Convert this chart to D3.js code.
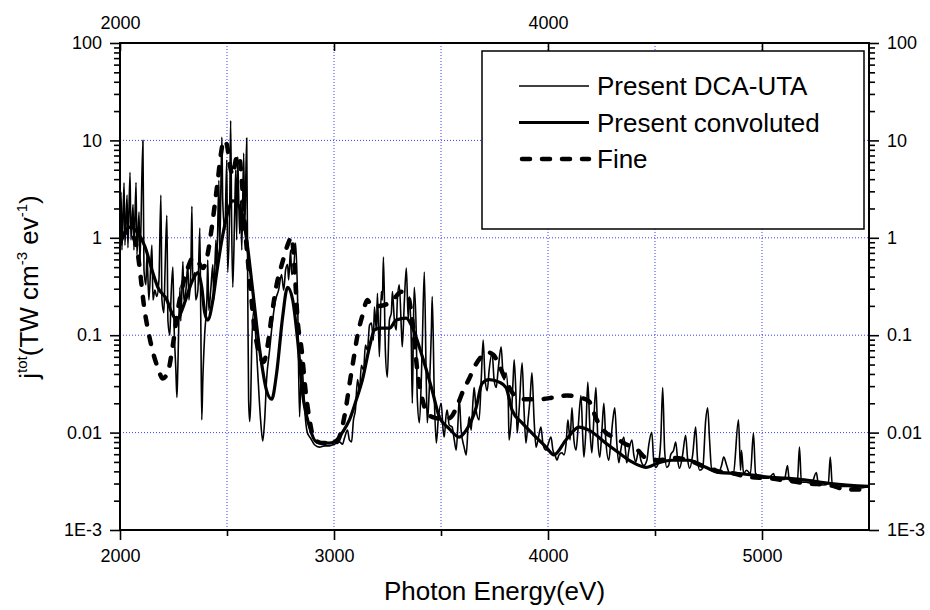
<!DOCTYPE html>
<html>
<head>
<meta charset="utf-8">
<script src="https://cdn.jsdelivr.net/npm/d3@7"></script>
<style>
body { margin: 0; background: #fff; }
text { font-family: "Liberation Sans", Arial, Helvetica, sans-serif; fill: #000; }
</style>
</head>
<body>
<div id="my_dataviz"></div>
<script>
// thin line: present DCA-UTA spectrum [eV, TW cm-3 eV-1]
var dcaUta = [
  [2000,0.57],[2005,2.95],[2009,0.75],[2019,3.66],[2023,0.84],[2033,2.75],[2037,0.79],[2047,4.7],
  [2051,0.95],[2061,2.2],[2065,0.75],[2075,3.7],[2079,0.67],[2089,1.84],[2093,0.53],[2107,10],
  [2112,0.47],[2121,0.33],[2126,0.67],[2135,0.23],[2149,0.84],[2154,0.23],[2163,0.29],[2172,0.25],
  [2182,0.37],[2191,2.75],[2196,0.23],[2205,0.17],[2210,0.42],[2219,1.7],[2224,0.14],[2233,0.1],
  [2238,0.23],[2247,0.5],[2252,0.14],[2261,0.044],[2266,0.023],[2270,0.044],[2280,0.31],[2284,0.14],
  [2294,0.57],[2298,0.23],[2308,0.29],[2317,0.53],[2322,0.23],[2331,0.47],[2336,2.1],[2340,0.37],
  [2350,0.44],[2354,0.23],[2364,0.29],[2373,1.26],[2378,0.11],[2382,0.0135],[2387,0.035],[2396,0.105],
  [2406,0.23],[2410,0.59],[2415,0.18],[2424,0.29],[2434,0.53],[2438,0.23],[2448,0.95],[2452,0.47],
  [2462,3.9],[2466,0.75],[2476,10.8],[2480,2.4],[2490,1.2],[2499,6.3],[2503,0.44],[2513,2.4],
  [2517,16],[2522,1.2],[2527,0.31],[2536,1.9],[2541,5.0],[2545,0.95],[2550,6.8],[2559,1.1],
  [2564,2.4],[2569,0.75],[2578,7.4],[2583,1.2],[2592,10.6],[2597,0.29],[2601,0.022],[2606,0.013],
  [2611,0.022],[2615,0.07],[2625,0.18],[2634,0.1],[2643,0.044],[2657,0.0135],[2667,0.0082],[2676,0.0135],
  [2685,0.035],[2699,0.07],[2713,0.14],[2727,0.23],[2741,0.29],[2755,0.42],[2765,0.29],[2774,0.47],
  [2783,0.53],[2788,0.37],[2797,0.75],[2802,0.42],[2811,0.47],[2821,0.885],[2830,0.23],[2839,0.0145],
  [2849,0.056],[2858,0.027],[2867,0.0135],[2876,0.0099],[2890,0.0088],[2909,0.0075],[2932,0.0071],[2956,0.0073],
  [2979,0.0073],[3002,0.0076],[3026,0.008],[3040,0.0076],[3049,0.0088],[3063,0.0106],[3072,0.0084],[3082,0.008],
  [3091,0.0135],[3100,0.017],[3110,0.035],[3119,0.027],[3128,0.049],[3138,0.044],[3147,0.079],[3156,0.07],
  [3166,0.127],[3175,0.133],[3184,0.089],[3189,0.195],[3198,0.113],[3203,0.27],[3212,0.06],[3221,0.28],
  [3226,0.23],[3231,0.635],[3240,0.07],[3249,0.037],[3259,0.143],[3268,0.17],[3273,0.28],[3282,0.143],
  [3291,0.113],[3296,0.23],[3305,0.33],[3315,0.113],[3319,0.076],[3329,0.23],[3338,0.49],[3347,0.143],
  [3352,0.25],[3361,0.089],[3366,0.02],[3371,0.113],[3375,0.31],[3385,0.089],[3389,0.023],[3399,0.0126],
  [3408,0.035],[3413,0.089],[3422,0.446],[3431,0.035],[3436,0.0126],[3445,0.027],[3455,0.113],[3459,0.25],
  [3469,0.022],[3478,0.0078],[3487,0.0135],[3501,0.02],[3510,0.0106],[3515,0.009],[3524,0.0152],[3529,0.017],
  [3538,0.012],[3552,0.0114],[3562,0.0084],[3571,0.0066],[3580,0.0135],[3585,0.0227],[3594,0.0106],[3608,0.0071],
  [3618,0.0059],[3627,0.012],[3632,0.0145],[3641,0.0106],[3650,0.022],[3655,0.029],[3664,0.017],[3678,0.0135],
  [3688,0.035],[3697,0.089],[3706,0.035],[3716,0.027],[3725,0.044],[3739,0.066],[3748,0.035],[3758,0.029],
  [3767,0.044],[3781,0.076],[3790,0.039],[3795,0.035],[3804,0.041],[3814,0.022],[3818,0.0084],[3828,0.0135],
  [3837,0.035],[3842,0.056],[3851,0.022],[3856,0.0099],[3865,0.017],[3879,0.052],[3888,0.017],[3897,0.0078],
  [3907,0.0135],[3916,0.022],[3925,0.041],[3935,0.0135],[3944,0.0071],[3953,0.0084],[3967,0.0114],[3977,0.0075],
  [3991,0.0066],[4000,0.0075],[4014,0.009],[4023,0.0066],[4033,0.0059],[4042,0.0052],[4051,0.0059],[4065,0.0062],
  [4075,0.0059],[4084,0.0075],[4093,0.0135],[4103,0.0084],[4112,0.018],[4121,0.0084],[4131,0.0066],[4140,0.0106],
  [4154,0.024],[4163,0.0084],[4168,0.0056],[4177,0.0106],[4186,0.033],[4196,0.0106],[4205,0.0062],[4214,0.0135],
  [4224,0.029],[4233,0.0084],[4242,0.0056],[4252,0.0106],[4261,0.02],[4270,0.0084],[4284,0.0052],[4294,0.0084],
  [4303,0.0135],[4312,0.018],[4322,0.0075],[4331,0.0049],[4340,0.0066],[4354,0.009],[4364,0.0059],[4368,0.0049],
  [4378,0.0066],[4392,0.0084],[4401,0.0059],[4410,0.005],[4424,0.0066],[4434,0.0052],[4448,0.0046],[4462,0.0052],
  [4471,0.0075],[4485,0.0101],[4494,0.0052],[4504,0.0044],[4517,0.005],[4527,0.0084],[4536,0.029],[4545,0.0066],
  [4555,0.0044],[4564,0.0046],[4573,0.0059],[4587,0.0066],[4597,0.008],[4606,0.0052],[4615,0.0043],[4629,0.0059],
  [4643,0.0094],[4653,0.0052],[4662,0.0043],[4676,0.0059],[4690,0.0114],[4699,0.0052],[4709,0.0041],[4723,0.0043],
  [4737,0.0135],[4746,0.018],[4755,0.0084],[4765,0.0041],[4779,0.0043],[4797,0.0039],[4811,0.0046],[4821,0.0056],
  [4835,0.0046],[4849,0.0038],[4867,0.0039],[4890,0.0135],[4900,0.0041],[4904,0.0066],[4914,0.0038],[4928,0.0041],
  [4946,0.0038],[4960,0.0099],[4970,0.0038],[4984,0.0036],[5007,0.0034],[5030,0.0034],[5054,0.0038],[5063,0.0033],
  [5086,0.0033],[5105,0.0033],[5119,0.0046],[5128,0.0032],[5147,0.0032],[5166,0.0033],[5175,0.0071],[5184,0.0031],
  [5207,0.0031],[5231,0.003],[5254,0.0039],[5263,0.003],[5287,0.0029],[5310,0.003],[5319,0.0056],[5329,0.0028],
  [5357,0.0028],[5403,0.0028],[5450,0.0027],[5500,0.0028]
];

// thick solid: present convoluted
var convoluted = [
  [2000,0.84],[2023,1.15],[2047,1.29],[2084,1.12],[2117,0.81],[2149,0.47],[2177,0.31],[2219,0.23],
  [2242,0.17],[2266,0.143],[2289,0.18],[2312,0.25],[2340,0.37],[2364,0.44],[2382,0.31],[2396,0.17],
  [2410,0.143],[2434,0.23],[2452,0.44],[2476,0.95],[2503,1.8],[2527,2.4],[2550,2.2],[2573,1.7],
  [2592,0.95],[2620,0.29],[2653,0.07],[2685,0.027],[2709,0.022],[2732,0.041],[2760,0.154],[2783,0.31],
  [2807,0.23],[2830,0.089],[2853,0.0255],[2886,0.0114],[2918,0.008],[2979,0.0078],[3012,0.0084],[3040,0.0101],
  [3072,0.0135],[3105,0.022],[3133,0.035],[3166,0.076],[3189,0.113],[3212,0.118],[3259,0.118],[3291,0.143],
  [3338,0.15],[3366,0.12],[3413,0.06],[3459,0.027],[3492,0.0145],[3538,0.011],[3585,0.009],[3618,0.0106],
  [3664,0.018],[3692,0.032],[3725,0.035],[3772,0.033],[3804,0.029],[3832,0.017],[3879,0.0126],[3925,0.0099],
  [3991,0.0071],[4028,0.0059],[4084,0.0084],[4145,0.0114],[4191,0.0106],[4270,0.0078],[4331,0.0062],[4392,0.005],
  [4457,0.0044],[4517,0.0049],[4578,0.0052],[4657,0.0052],[4737,0.0044],[4797,0.0039],[4890,0.0038],[5030,0.0035],
  [5184,0.0033],[5324,0.003],[5500,0.0028]
];

// thick dashed: fine structure
var fine = [
  [2000,0.95],[2037,1.15],[2065,1.0],[2084,0.665],[2098,0.37],[2112,0.2],[2131,0.113],[2154,0.067],
  [2177,0.046],[2200,0.036],[2224,0.042],[2247,0.079],[2270,0.18],[2294,0.33],[2317,0.49],[2340,0.62],
  [2364,0.57],[2387,0.49],[2406,0.62],[2424,1.07],[2443,2.2],[2457,3.9],[2471,7.1],[2485,10],
  [2499,9.1],[2513,5.6],[2527,4.4],[2541,6.3],[2555,7.1],[2569,3.9],[2583,1.37],[2606,0.37],
  [2629,0.113],[2653,0.063],[2671,0.053],[2690,0.079],[2709,0.16],[2732,0.33],[2760,0.57],[2783,0.84],
  [2802,1.02],[2816,0.47],[2830,0.143],[2849,0.07],[2867,0.027],[2886,0.0135],[2905,0.0088],[2942,0.0078],
  [3012,0.008],[3035,0.0106],[3054,0.017],[3072,0.031],[3091,0.056],[3110,0.1],[3133,0.16],[3156,0.23],
  [3175,0.2],[3212,0.2],[3250,0.21],[3282,0.24],[3315,0.28],[3343,0.26],[3366,0.143],[3389,0.044],
  [3413,0.022],[3445,0.015],[3482,0.014],[3515,0.0135],[3548,0.0145],[3576,0.019],[3604,0.027],[3632,0.036],
  [3660,0.049],[3688,0.06],[3716,0.067],[3744,0.063],[3772,0.049],[3799,0.036],[3827,0.027],[3855,0.023],
  [3888,0.022],[3958,0.022],[4028,0.023],[4089,0.024],[4145,0.023],[4191,0.021],[4228,0.0135],[4270,0.01],
  [4317,0.0088],[4364,0.0076],[4410,0.0069],[4457,0.0055],[4517,0.0052],[4587,0.0055],[4657,0.0052],[4727,0.0045],
  [4797,0.004],[4867,0.0038],[4937,0.0035],[5030,0.0034],[5123,0.0032],[5217,0.003],[5310,0.0029],[5403,0.0026],
  [5500,0.0026]
];

var legendNames = ["Present DCA-UTA", "Present convoluted", "Fine"];
var xMajor = [2000, 3000, 4000, 5000];
var xMinor = [2500, 3500, 4500];
var topMajor = [2000, 4000];
var topMinor = [3000, 5000];
var xGrid = [2500, 3000, 3500, 4000, 4500, 5000];
var yMajor = [0.001, 0.01, 0.1, 1, 10, 100];
var yLabels = ["1E-3", "0.01", "0.1", "1", "10", "100"];
var yGrid = [0.01, 0.1, 1, 10];

var margin = {top: 43, right: 61, bottom: 80, left: 120},
    width = 930 - margin.left - margin.right,
    height = 610 - margin.top - margin.bottom;

var svg = d3.select("#my_dataviz")
    .append("svg")
    .attr("width", 930)
    .attr("height", 610)
    .style("background", "#fff")
    .append("g")
    .attr("transform", "translate(" + margin.left + "," + margin.top + ")");

var x = d3.scaleLinear().domain([2000, 5500]).range([0, width]);
var y = d3.scaleLog().domain([0.001, 100]).range([height, 0]);

// minor ticks on the log axis: 2..9 in each decade
var yMinor = [];
yMajor.slice(0, -1).forEach(function(d) {
    for (var k = 2; k < 10; k++) yMinor.push(d * k);
});

svg.append("defs").append("clipPath").attr("id", "clip")
    .append("rect").attr("width", width).attr("height", height);

// grid
svg.append("g").selectAll("line").data(xGrid).enter().append("line")
    .attr("x1", d => x(d)).attr("x2", d => x(d))
    .attr("y1", 0).attr("y2", height)
    .attr("stroke", "#3c3cff").attr("stroke-width", 1).attr("stroke-dasharray", "1,2");
svg.append("g").selectAll("line").data(yGrid).enter().append("line")
    .attr("x1", 0).attr("x2", width)
    .attr("y1", d => y(d)).attr("y2", d => y(d))
    .attr("stroke", "#3c3cff").attr("stroke-width", 1).attr("stroke-dasharray", "1,2");

var smooth = d3.line().curve(d3.curveMonotoneX).x(d => x(d[0])).y(d => y(d[1]));

var curves = svg.append("g").attr("clip-path", "url(#clip)");

curves.append("path").datum(dcaUta)
    .attr("fill", "none").attr("stroke", "#000").attr("stroke-width", 1.6)
    .attr("stroke-linejoin", "round")
    .attr("d", smooth);

curves.append("path").datum(convoluted)
    .attr("fill", "none").attr("stroke", "#000").attr("stroke-width", 3.2)
    .attr("stroke-linejoin", "round")
    .attr("d", smooth);

curves.append("path").datum(fine)
    .attr("fill", "none").attr("stroke", "#000").attr("stroke-width", 4.5)
    .attr("stroke-linecap", "round").attr("stroke-dasharray", "8,12")
    .attr("d", smooth);

// legend
var lg = svg.append("g").attr("transform", "translate(" + (482 - margin.left) + "," + (51 - margin.top) + ")");
lg.append("rect").attr("width", 382).attr("height", 178)
    .attr("fill", "#fff").attr("stroke", "#000").attr("stroke-width", 1.5);
var styles = [
    {w: 1.4, dash: null, cap: "butt"},
    {w: 3.2, dash: null, cap: "butt"},
    {w: 4.5, dash: "8,12", cap: "round"}
];
legendNames.forEach(function(name, i) {
    var ly = 35 + i * 36.5;
    lg.append("line")
        .attr("x1", i == 2 ? 40 : 37).attr("x2", 107)
        .attr("y1", ly).attr("y2", ly)
        .attr("stroke", "#000").attr("stroke-width", styles[i].w)
        .attr("stroke-linecap", styles[i].cap)
        .attr("stroke-dasharray", styles[i].dash);
    lg.append("text").attr("x", 115).attr("y", ly + 9)
        .style("font-size", "26px").text(name);
});

// axes
svg.append("g")
    .attr("transform", "translate(0," + height + ")")
    .call(d3.axisBottom(x).tickValues(xMajor).tickSize(10).tickSizeOuter(0).tickPadding(9).tickFormat(d3.format("d")))
    .call(g => g.select(".domain").remove());
svg.append("g")
    .attr("transform", "translate(0," + height + ")")
    .call(d3.axisBottom(x).tickValues(xMinor).tickSize(6).tickSizeOuter(0).tickFormat(""))
    .call(g => g.select(".domain").remove());

svg.append("g")
    .call(d3.axisTop(x).tickValues(topMajor).tickSize(-8).tickSizeOuter(0).tickPadding(14).tickFormat(d3.format("d")))
    .call(g => g.select(".domain").remove());
svg.append("g")
    .call(d3.axisTop(x).tickValues(topMinor).tickSize(-8).tickSizeOuter(0).tickFormat(""))
    .call(g => g.select(".domain").remove());

svg.append("g")
    .call(d3.axisLeft(y).tickValues(yMajor).tickSize(10).tickSizeOuter(0).tickPadding(8)
        .tickFormat((d, i) => yLabels[i]))
    .call(g => g.select(".domain").remove());
svg.append("g")
    .call(d3.axisLeft(y).tickValues(yMinor).tickSize(6).tickSizeOuter(0).tickFormat(""))
    .call(g => g.select(".domain").remove());

svg.append("g")
    .attr("transform", "translate(" + width + ",0)")
    .call(d3.axisRight(y).tickValues(yMajor).tickSize(10).tickSizeOuter(0).tickPadding(8)
        .tickFormat((d, i) => yLabels[i]))
    .call(g => g.select(".domain").remove());
svg.append("g")
    .attr("transform", "translate(" + width + ",0)")
    .call(d3.axisRight(y).tickValues(yMinor).tickSize(6).tickSizeOuter(0).tickFormat(""))
    .call(g => g.select(".domain").remove());

svg.selectAll(".tick line").attr("stroke", "#000").attr("stroke-width", 1.6);
svg.selectAll(".tick text").style("font-size", "18px").style("font-family", "'Liberation Sans', Arial, sans-serif");

// frame
svg.append("rect").attr("width", width).attr("height", height)
    .attr("fill", "none").attr("stroke", "#000").attr("stroke-width", 2);

// axis titles
svg.append("text")
    .attr("text-anchor", "middle")
    .attr("x", width / 2)
    .attr("y", height + 70)
    .style("font-size", "26px")
    .text("Photon Energy(eV)");

var yt = svg.append("text")
    .attr("text-anchor", "middle")
    .attr("transform", "translate(" + (38 - margin.left) + "," + (287 - margin.top) + ") rotate(-90)")
    .style("font-size", "26px");
yt.append("tspan").text("j");
yt.append("tspan").attr("dy", -11).style("font-size", "15px").text("tot");
yt.append("tspan").attr("dy", 11).text("(TW cm");
yt.append("tspan").attr("dy", -11).style("font-size", "15px").text("-3");
yt.append("tspan").attr("dy", 11).text(" ev");
yt.append("tspan").attr("dy", -11).style("font-size", "15px").text("-1");
yt.append("tspan").attr("dy", 11).text(")");
</script>
</body>
</html>
